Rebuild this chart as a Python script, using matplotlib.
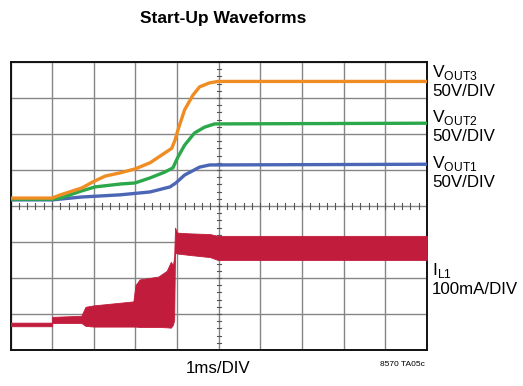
import matplotlib.pyplot as plt

# time axis in divisions (1ms/DIV), values in screen divisions (0 = bottom)
v3_x = [0, 1.0, 1.2, 1.71, 1.98, 2.27, 2.63, 2.99, 3.35, 3.7, 3.87, 3.95, 4.02,
        4.18, 4.38, 4.54, 4.78, 4.98, 10]
v3_y = [4.22, 4.22, 4.31, 4.5, 4.67, 4.83, 4.92, 5.03, 5.2, 5.47, 5.6, 5.83,
        6.11, 6.67, 7.08, 7.31, 7.42, 7.46, 7.46]

v2_x = [0, 1.0, 1.2, 1.71, 2.03, 2.63, 2.99, 3.35, 3.7, 3.9, 4.02, 4.18, 4.42,
        4.66, 4.9, 10]
v2_y = [4.19, 4.19, 4.22, 4.42, 4.53, 4.61, 4.64, 4.78, 4.94, 5.06, 5.36,
        5.69, 6.03, 6.19, 6.28, 6.3]

v1_x = [0, 1.0, 1.71, 2.63, 3.35, 3.83, 3.97, 4.18, 4.54, 4.78, 10]
v1_y = [4.17, 4.17, 4.25, 4.31, 4.39, 4.53, 4.64, 4.86, 5.08, 5.14, 5.16]

il_x = [0, 1.0, 1.0, 1.7, 1.8, 2.0, 2.95, 3.0, 3.1, 3.55, 3.75, 3.85, 3.9,
        3.93, 3.95, 4.0, 4.3, 4.79, 4.98, 10]
il_hi = [0.76, 0.76, 0.92, 0.95, 1.2, 1.24, 1.35, 1.8, 1.96, 2.04, 2.2, 2.45,
         2.35, 2.6, 3.4, 3.26, 3.24, 3.22, 3.17, 3.17]
il_lo = [0.66, 0.66, 0.75, 0.75, 0.67, 0.65, 0.65, 0.65, 0.64, 0.64, 0.63,
         0.62, 0.7, 0.83, 2.7, 2.68, 2.64, 2.58, 2.5, 2.5]

plt.rcParams['font.family'] = ['Liberation Sans', 'DejaVu Sans']
plt.rcParams['mathtext.fontset'] = 'custom'
plt.rcParams['mathtext.rm'] = 'Liberation Sans'

fig = plt.figure(figsize=(5.23, 3.86), dpi=100)
ax = fig.add_axes([10.5 / 523, 36 / 386, 416.5 / 523, 288 / 386])

ax.set_xlim(0, 10)
ax.set_ylim(0, 8)
ax.set_xticks(range(11))
ax.set_yticks(range(9))
ax.tick_params(length=0, labelbottom=False, labelleft=False)
ax.grid(True, color='#858585', lw=1.0)
for s in ax.spines.values():
    s.set_linewidth(1.4)
    s.set_color('#111111')

# minor ticks on the centre cross
for i in range(51):
    t = i * 0.2
    ax.plot([t, t], [3.93, 4.07], color='#555555', lw=0.8, zorder=2)
for i in range(41):
    t = i * 0.2
    ax.plot([4.95, 5.05], [t, t], color='#555555', lw=0.8, zorder=2)

ax.fill_between(il_x, il_lo, il_hi, color='#c21c3c', lw=0.6,
                edgecolor='#c21c3c', zorder=3)
ax.plot(v1_x, v1_y, color='#4b66b4', lw=2.4, zorder=4)
ax.plot(v2_x, v2_y, color='#2ba84a', lw=2.4, zorder=4)
ax.plot(v3_x, v3_y, color='#ef8c22', lw=2.4, zorder=4)

fig.text(223 / 523, 1 - 19 / 386, 'Start-Up Waveforms', ha='center',
         va='center', fontsize=12.5, fontweight='bold')

labels = [('OUT3', 'V', '50V/DIV', 77), ('OUT2', 'V', '50V/DIV', 122),
          ('OUT1', 'V', '50V/DIV', 168), ('L1', 'I', '100mA/DIV', 275)]
for sub, main, scale, base in labels:
    fig.text(432 / 523, 1 - base / 386, main + '$_{\\mathregular{' + sub + '}}$',
             ha='left', va='baseline', fontsize=12.5)
    fig.text(432 / 523, 1 - (base + 19) / 386, scale, ha='left',
             va='baseline', fontsize=12.2)

fig.text(218 / 523, 1 - 373 / 386, '1ms/DIV', ha='center', va='baseline',
         fontsize=12.2)
fig.text(425 / 523, 1 - 366 / 386, '8570 TA05c', ha='right', va='baseline',
         fontsize=6)

fig.savefig('out.png', dpi=100)
